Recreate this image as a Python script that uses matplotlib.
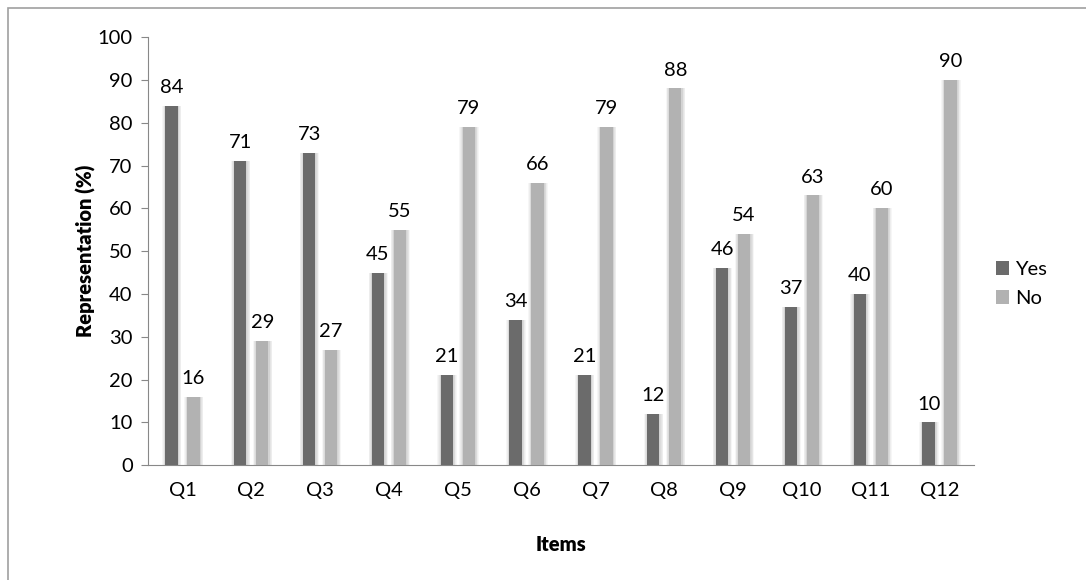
import numpy as np
import matplotlib.pyplot as plt
from matplotlib.patches import Rectangle

# data
items = ['Q1', 'Q2', 'Q3', 'Q4', 'Q5', 'Q6', 'Q7', 'Q8', 'Q9', 'Q10', 'Q11', 'Q12']
yes = [84, 71, 73, 45, 21, 34, 21, 12, 46, 37, 40, 10]
no = [16, 29, 27, 55, 79, 66, 79, 88, 54, 63, 60, 90]

plt.rcParams['font.family'] = ['Lato', 'DejaVu Sans']
fs = 14.5

fig = plt.figure(figsize=(10.86, 5.8), dpi=100)
ax = fig.add_axes([0.1363, 0.198, 0.7606, 0.738])

x = np.arange(len(items))
w = 0.18
off = 0.16

# soft shadows behind bars
for k in range(5):
    ext = 0.01 * (k + 1)
    ax.bar(x - off + 0.005, yes, w + 2 * ext, color='black', alpha=0.035, zorder=1, linewidth=0)
    ax.bar(x + off + 0.005, no, w + 2 * ext, color='black', alpha=0.035, zorder=1, linewidth=0)

ax.bar(x - off, yes, w, color='#6b6b6b', label='Yes', zorder=3)
ax.bar(x + off, no, w, color='#b2b2b2', label='No', zorder=3)

for i in range(len(items)):
    ax.text(x[i] - off, yes[i] + 2.3, str(yes[i]), ha='center', va='bottom', fontsize=fs)
    ax.text(x[i] + off, no[i] + 2.3, str(no[i]), ha='center', va='bottom', fontsize=fs)

ax.set_xlim(-0.5, len(items) - 0.5)
ax.set_ylim(0, 100)
ax.set_yticks(np.arange(0, 101, 10))
ax.set_xticks(x)
ax.set_xticklabels(items)
ax.tick_params(axis='x', length=0, labelsize=fs, pad=12)
ax.tick_params(axis='y', length=5, color='#888888', labelsize=fs, pad=6)
for s in ['top', 'right']:
    ax.spines[s].set_visible(False)
for s in ['left', 'bottom']:
    ax.spines[s].set_color('#888888')

ax.set_ylabel('Representation (%)', fontsize=fs, fontweight='heavy', labelpad=1)
ax.set_xlabel('Items', fontsize=fs, fontweight='heavy', labelpad=26)

ax.legend(loc='center left', bbox_to_anchor=(1.005, 0.423), frameon=False, fontsize=fs,
          handlelength=0.65, handleheight=0.65, handletextpad=0.3, labelspacing=0.6)

# chart border
fig.patches.append(Rectangle((8 / 1086, -0.1), 1.2, (580 - 8) / 580 + 0.1,
                             transform=fig.transFigure, fill=False,
                             edgecolor='#a0a0a0', linewidth=1.2))

fig.savefig('out.png', dpi=100)
